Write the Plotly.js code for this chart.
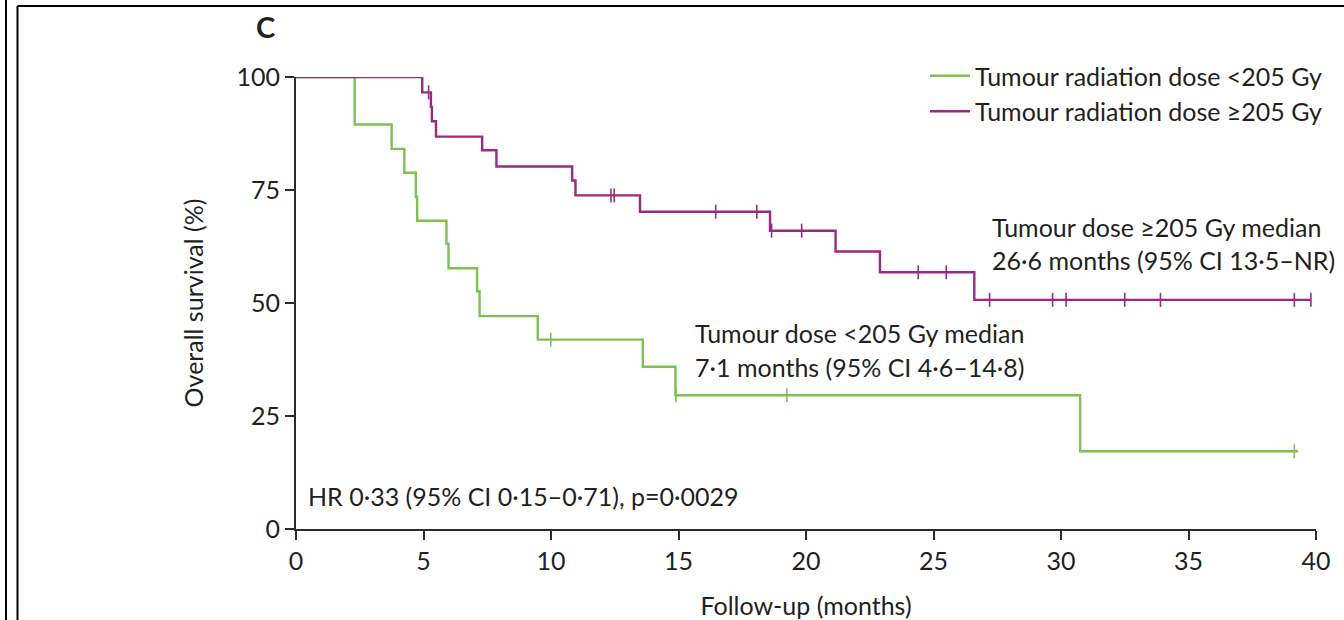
<!DOCTYPE html>
<html>
<head>
<meta charset="utf-8">
<script src="https://cdn.plot.ly/plotly-3.0.1.min.js"></script>
<style>
  html, body { margin: 0; padding: 0; background: #ffffff; }
  #chart { width: 1344px; height: 620px; }
</style>
</head>
<body>
<div id="chart"></div>
<script>
// ---- Data ----
const seriesNames = ["Tumour radiation dose <205 Gy", "Tumour radiation dose \u2265205 Gy"];

// Kaplan–Meier steps, group <205 Gy (time in months, survival in %)
const lowTimes = [0, 2.3, 3.75, 4.25, 4.7, 4.75, 5.9, 5.98, 7.1, 7.2, 9.48, 13.6, 14.88, 30.75, 39.3];
const lowSurv  = [100, 89.5, 84.1, 78.8, 73.5, 68.2, 63.1, 57.7, 52.6, 47.1, 41.9, 35.9, 29.6, 17.2, 17.2];
const lowCensor = [9.99, 14.9, 19.25, 39.15];

// Kaplan–Meier steps, group >=205 Gy
const highTimes = [0, 4.95, 5.29, 5.33, 5.49, 7.3, 7.86, 10.83, 10.96, 13.49, 18.59, 21.16, 22.9, 26.6, 39.8];
const highSurv  = [100, 96.6, 93.4, 90.2, 86.8, 83.8, 80.2, 77.1, 73.8, 70.2, 66.0, 61.4, 56.8, 50.7, 50.7];
const highCensor = [5.2, 12.35, 12.48, 16.46, 18.07, 18.65, 19.83, 24.4, 25.5, 27.2, 29.67, 30.2, 32.5, 33.9, 39.15, 39.8];

const xTicks = [0, 5, 10, 15, 20, 25, 30, 35, 40];
const yTicks = [0, 25, 50, 75, 100];

const textLowMedian = ["Tumour dose <205 Gy median", "7\u00b71 months (95% CI 4\u00b76\u201314\u00b78)"];
const textHighMedian = ["Tumour dose \u2265205 Gy median", "26\u00b76 months (95% CI 13\u00b75\u2013NR)"];
const textHR = "HR 0\u00b733 (95% CI 0\u00b715\u20130\u00b771), p=0\u00b70029";

// ---- Styles ----
const GREEN = "#7cc152";
const PURPLE = "#982a86";
const INK = "#231f20";
const FONT = "Lato, 'Open Sans', sans-serif";
const FS = 25;

function survAt(times, surv, t) {
  let v = surv[0];
  for (let i = 0; i < times.length; i++) { if (times[i] <= t) v = surv[i]; }
  return v;
}

const traces = [
  { x: lowTimes, y: lowSurv, mode: "lines", line: { shape: "hv", color: GREEN, width: 2.4 },
    name: seriesNames[0], legendgroup: "a", cliponaxis: false, hoverinfo: "skip" },
  { x: highTimes, y: highSurv, mode: "lines", line: { shape: "hv", color: PURPLE, width: 2.4 },
    name: seriesNames[1], legendgroup: "b", cliponaxis: false, hoverinfo: "skip" },
  { x: lowCensor, y: lowCensor.map(t => survAt(lowTimes, lowSurv, t)), mode: "markers",
    marker: { symbol: "line-ns", size: 10, line: { color: GREEN, width: 1.6 } },
    showlegend: false, cliponaxis: false, hoverinfo: "skip" },
  { x: highCensor, y: highCensor.map(t => survAt(highTimes, highSurv, t)), mode: "markers",
    marker: { symbol: "line-ns", size: 10, line: { color: PURPLE, width: 1.6 } },
    showlegend: false, cliponaxis: false, hoverinfo: "skip" }
];

// pixel helpers for the frame (plot area: x 296..1316, y 77..529)
const L = 296, R = 28, T = 77, B = 91, W = 1344, H = 620;
const pw = W - L - R, ph = H - T - B;
const px = v => (v - L) / pw;
const py = v => (H - B - v) / ph;

const annotations = [
  { xref: "paper", yref: "paper", x: px(265), y: py(27), text: "<b>C</b>", showarrow: false,
    font: { family: FONT, size: 29, color: INK }, xanchor: "center", yanchor: "middle" },
  { x: 27.2, y: 66.8, text: textHighMedian[0], showarrow: false, xanchor: "left", yanchor: "middle",
    font: { family: FONT, size: FS, color: INK } },
  { x: 27.2, y: 59.5, text: textHighMedian[1], showarrow: false, xanchor: "left", yanchor: "middle",
    font: { family: FONT, size: FS, color: INK } },
  { x: 15.57, y: 43.3, text: textLowMedian[0], showarrow: false, xanchor: "left", yanchor: "middle",
    font: { family: FONT, size: FS, color: INK } },
  { x: 15.57, y: 35.8, text: textLowMedian[1], showarrow: false, xanchor: "left", yanchor: "middle",
    font: { family: FONT, size: FS, color: INK } },
  { x: 0.39, y: 7.3, text: textHR, showarrow: false, xanchor: "left", yanchor: "middle",
    font: { family: FONT, size: FS, color: INK } }
];

const shapes = [
  { type: "line", xref: "paper", yref: "paper", x0: px(6), x1: px(6), y0: py(0), y1: py(620),
    line: { color: "#000", width: 2 } },
  { type: "line", xref: "paper", yref: "paper", x0: px(17.5), x1: px(17.5), y0: py(6), y1: py(620),
    line: { color: "#000", width: 2 } },
  { type: "line", xref: "paper", yref: "paper", x0: px(17.5), x1: px(1344), y0: py(6), y1: py(6),
    line: { color: "#000", width: 2 } }
];

const layout = {
  width: W, height: H,
  margin: { l: L, r: R, t: T, b: B, pad: 0 },
  paper_bgcolor: "#ffffff", plot_bgcolor: "#ffffff",
  font: { family: FONT, size: FS, color: INK },
  showlegend: true,
  legend: {
    x: px(925), y: py(53), xanchor: "left", yanchor: "top",
    font: { family: FONT, size: FS, color: INK },
    bgcolor: "rgba(0,0,0,0)", tracegroupgap: 0, itemwidth: 40
  },
  xaxis: {
    range: [0, 40], tickvals: xTicks, ticktext: xTicks.map(String),
    showgrid: false, zeroline: false, showline: true, linecolor: "#2b2b2b", linewidth: 2,
    ticks: "outside", ticklen: 9, tickwidth: 2, tickcolor: "#2b2b2b",
    tickfont: { family: FONT, size: FS, color: INK },
    title: { text: "Follow-up (months)", font: { family: FONT, size: FS, color: INK }, standoff: 24 },
    fixedrange: true
  },
  yaxis: {
    range: [0, 100], tickvals: yTicks, ticktext: yTicks.map(String),
    showgrid: false, zeroline: false, showline: true, linecolor: "#2b2b2b", linewidth: 2,
    ticks: "outside", ticklen: 9, tickwidth: 2, tickcolor: "#2b2b2b",
    tickfont: { family: FONT, size: FS, color: INK },
    title: { text: "Overall survival (%)", font: { family: FONT, size: FS, color: INK }, standoff: 26 },
    fixedrange: true
  },
  annotations: annotations,
  shapes: shapes
};

Plotly.newPlot("chart", traces, layout, { displayModeBar: false, staticPlot: true });
</script>
</body>
</html>
